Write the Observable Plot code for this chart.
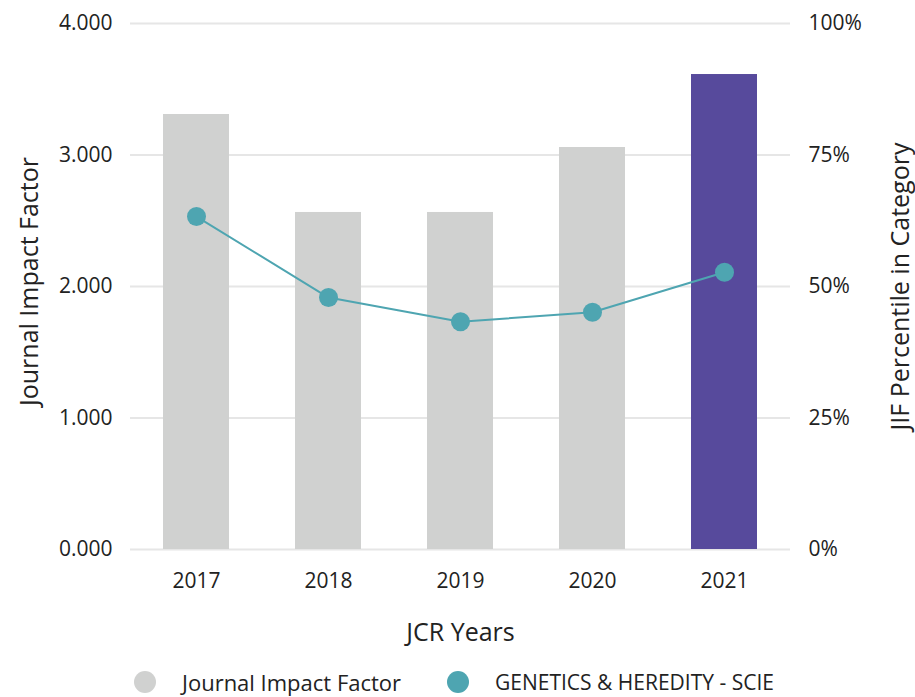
<!DOCTYPE html>
<html>
<head>
<meta charset="utf-8">
<script src="https://cdn.jsdelivr.net/npm/d3@7"></script>
<script src="https://cdn.jsdelivr.net/npm/@observablehq/plot@0.6"></script>
<style>
  html, body { margin: 0; padding: 0; background: #fff; }
  body { width: 915px; height: 697px; overflow: hidden; font-family: "Open Sans", sans-serif; color: #222; }
  #chart { position: relative; }
  .legend { position: relative; height: 42px; font-size: 22px; color: #222; }
  .legend .item { position: absolute; top: 6px; display: flex; align-items: center; height: 42px; }
  .legend .dot { width: 22px; height: 22px; border-radius: 50%; display: inline-block; margin-right: 26px; }
</style>
</head>
<body>
<div id="chart"></div>
<div class="legend">
  <div class="item" style="left:134px"><span class="dot" style="background:#d0d1d0"></span><span>Journal Impact Factor</span></div>
  <div class="item" style="left:447px"><span class="dot" style="background:#4ea5b1"></span><span style="font-size:21px">GENETICS &amp; HEREDITY - SCIE</span></div>
</div>
<script>
const years = ["2017", "2018", "2019", "2020", "2021"];
const jif = [3.308, 2.563, 2.563, 3.057, 3.612];
const percentile = [63.3, 47.9, 43.3, 45.1, 52.7];
const leftTicks = [0, 1, 2, 3, 4];
const rightTickLabels = ["0%", "25%", "50%", "75%", "100%"];
const barColors = ["#d0d1d0", "#d0d1d0", "#d0d1d0", "#d0d1d0", "#574a9c"];

const data = years.map((y, i) => ({year: y, jif: jif[i], pct: percentile[i], color: barColors[i]}));

const chart = Plot.plot({
  width: 915,
  height: 655,
  marginLeft: 130,
  marginRight: 125,
  marginTop: 23,
  marginBottom: 106,
  style: {fontFamily: "Open Sans, sans-serif", fontSize: "21px", color: "#222", background: "#fff"},
  x: {domain: years, paddingInner: 0.5, paddingOuter: 0.25, label: null},
  y: {domain: [0, 4], label: null},
  marks: [
    Plot.ruleY(leftTicks, {stroke: "#e6e6e6", strokeWidth: 2}),
    Plot.barY(data, {x: "year", y: "jif", fill: "color"}),
    Plot.line(data, {x: "year", y: d => d.pct / 25, stroke: "#4ea5b1", strokeWidth: 2}),
    Plot.dot(data, {x: "year", y: d => d.pct / 25, r: 9.5, fill: "#4ea5b1"}),
    Plot.axisX({tickSize: 0, tickPadding: 24, label: null, fontSize: 21, fill: "#222"}),
    Plot.axisY({anchor: "left", ticks: leftTicks, tickSize: 0, tickPadding: 18, tickFormat: d3.format(".3f"), label: null, fontSize: 21, fill: "#222"}),
    Plot.axisY({anchor: "right", ticks: leftTicks, tickSize: 0, tickPadding: 18, tickFormat: (d, i) => rightTickLabels[i], label: null, fontSize: 21, fill: "#222"}),
    Plot.text(["Journal Impact Factor"], {frameAnchor: "left", dx: -101, dy: -5, rotate: -90, textAnchor: "middle", fontSize: 25, fill: "#222"}),
    Plot.text(["JIF Percentile in Category"], {frameAnchor: "right", dx: 110, rotate: -90, textAnchor: "middle", fontSize: 25, fill: "#222"}),
    Plot.text(["JCR Years"], {frameAnchor: "bottom", dy: 91, fontSize: 25, fill: "#222"})
  ]
});
document.getElementById("chart").appendChild(chart);
</script>
</body>
</html>
